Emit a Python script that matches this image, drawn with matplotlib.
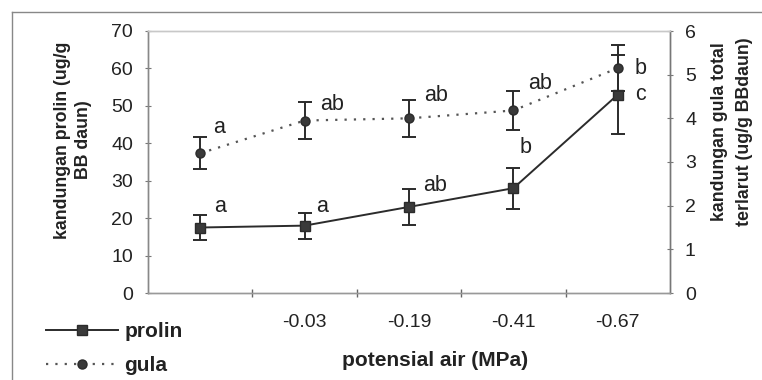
import matplotlib
matplotlib.use("Agg")
import matplotlib.pyplot as plt
from matplotlib.lines import Line2D

plt.rcParams['font.family'] = ['Liberation Sans', 'DejaVu Sans']

# ---- data ----
categories = ["", "-0.03", "-0.19", "-0.41", "-0.67"]
prolin = [17.5, 18.0, 23.0, 28.0, 53.0]
prolin_err = [3.3, 3.5, 4.8, 5.5, 10.5]
gula = [3.2, 3.95, 4.0, 4.18, 5.15]
gula_err = [0.37, 0.43, 0.43, 0.44, 0.53]
prolin_letters = ["a", "a", "ab", "b", "c"]
gula_letters = ["a", "ab", "ab", "ab", "b"]

# label offsets (pixels) relative to each point
prolin_off = [(20, 21), (17, 19), (26, 21), (12, 41), (23, 0)]
gula_off = [(19, 26), (27, 16), (27, 23), (27, 27), (23, 0)]

W, H = 762, 380
fig = plt.figure(figsize=(W / 100, H / 100), dpi=100)
ax = fig.add_axes([148 / W, 1 - 293 / H, (670 - 148) / W, (293 - 31) / H])
ax2 = ax.twinx()

x = list(range(len(categories)))
dark = "#2b2b2b"
fs_tick = 14
fs_let = 15.5
fs_bold = 15
fs_ylab = 12.8

ax.errorbar(x, prolin, yerr=prolin_err, color=dark, lw=1.4, marker='s',
            markersize=6.5, mfc="#3a3a3a", mec=dark, capsize=4.7, capthick=1.4,
            elinewidth=1.4, zorder=3)
ax2.errorbar(x, gula, yerr=gula_err, color="#555", lw=1.6, ls=(0, (1, 3.2)),
             marker='o', markersize=6.5, mfc="#3a3a3a", mec=dark, ecolor=dark,
             capsize=4.7, capthick=1.4, elinewidth=1.4, zorder=3)

for i in x:
    ax.annotate(prolin_letters[i], xy=(i, prolin[i]), xytext=prolin_off[i],
                textcoords='offset pixels', ha='center', va='center',
                fontsize=fs_let, color="#222")
    ax2.annotate(gula_letters[i], xy=(i, gula[i]), xytext=gula_off[i],
                 textcoords='offset pixels', ha='center', va='center',
                 fontsize=fs_let, color="#222")

ax.set_xlim(-0.5, len(categories) - 0.5)
ax.set_ylim(0, 70)
ax2.set_ylim(0, 6)
ax.set_yticks(range(0, 71, 10))
ax2.set_yticks(range(0, 7))
ax.set_xticks(x)
ax.set_xticklabels(categories)
ax.set_xticks([i + 0.5 for i in x[:-1]], minor=True)

ax.tick_params(axis='x', which='major', length=0, pad=15, labelsize=fs_tick, colors="#222")
ax.tick_params(axis='x', which='minor', length=6, direction='inout', color="#666", width=1)
ax.tick_params(axis='y', length=5, direction='inout', color="#777", pad=8.3,
               labelsize=fs_tick, labelcolor="#222")
ax2.tick_params(axis='y', length=5, direction='inout', color="#777", pad=8.3,
                labelsize=fs_tick, labelcolor="#222")

for a in (ax, ax2):
    a.spines['left'].set_color("#888")
    a.spines['right'].set_color("#777")
    a.spines['bottom'].set_color("#999")
    a.spines['top'].set_color("#c8c8c8")
    for s in a.spines.values():
        s.set_linewidth(1)

# axis labels
fig.text(73 / W, 1 - 140 / H, "kandungan prolin (ug/g\nBB daun)", rotation=90,
         ha='center', va='center', multialignment='center', fontsize=fs_ylab,
         fontweight='bold', color="#222", linespacing=1.3)
fig.text(732 / W, 1 - 132 / H, "kandungan gula total\nterlarut (ug/g BBdaun)",
         rotation=90, ha='center', va='center', multialignment='center',
         fontsize=fs_ylab, fontweight='bold', color="#222", linespacing=1.55)
fig.text(435 / W, 1 - 360 / H, "potensial air (MPa)", ha='center', va='center',
         fontsize=fs_bold, fontweight='bold', color="#222")

# legend
h1 = Line2D([], [], color=dark, lw=1.4, marker='s', markersize=6.5,
            mfc="#3a3a3a", mec=dark)
h2 = Line2D([], [], color="#555", lw=1.6, ls=(0, (1, 3.2)), marker='o',
            markersize=6.5, mfc="#3a3a3a", mec=dark)
leg = fig.legend([h1, h2], ["prolin", "gula"], loc='upper left',
                 bbox_to_anchor=(46 / W, 1 - 322 / H), frameon=False,
                 handlelength=3.45, handletextpad=0.3, labelspacing=0.72,
                 borderpad=0, borderaxespad=0,
                 prop={'size': fs_bold, 'weight': 'bold'})
for t in leg.get_texts():
    t.set_color("#222")

# outer frame (scan border)
fig.add_artist(Line2D([12 / W, 12 / W], [0, 1 - 12 / H], color="#888", lw=1,
                      transform=fig.transFigure))
fig.add_artist(Line2D([12 / W, 1], [1 - 12 / H, 1 - 12 / H], color="#888", lw=1,
                      transform=fig.transFigure))

fig.savefig("out.png", dpi=100)
